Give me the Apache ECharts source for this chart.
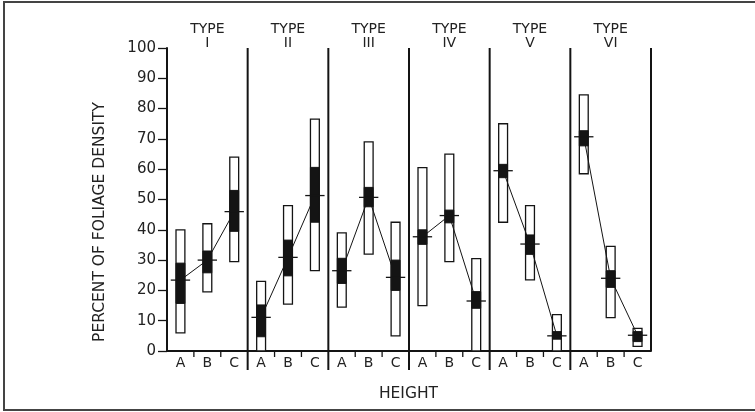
<!DOCTYPE html>
<html>
<head>
<meta charset="utf-8">
<script src="https://cdn.jsdelivr.net/npm/echarts@6/dist/echarts.min.js"></script>
<style>
html,body{margin:0;padding:0;background:#fff;}
#chart{width:755px;height:412px;}
</style>
</head>
<body>
<div id="chart"></div>
<script>
// ---- data ----
var types = ['I', 'II', 'III', 'IV', 'V', 'VI'];
var heights = ['A', 'B', 'C'];
var yTicks = [0, 10, 20, 30, 40, 50, 60, 70, 80, 90, 100];
// range (open bar)
var rangeLow  = [6, 19.5, 29.5,   0, 15.5, 26.5,   14.5, 32, 5,   15, 29.5, 0,   42.5, 23.5, 0,   58.5, 11, 1.5];
var rangeHigh = [40, 42, 64,   23, 48, 76.5,   39, 69, 42.5,   60.5, 65, 30.5,   75, 48, 12,   84.5, 34.5, 7.5];
// inner (solid bar)
var innerLow  = [15.7, 25.8, 39.5,   4.7, 24.8, 42.5,   22.3, 47.6, 20,   35.2, 42.3, 14.1,   57.2, 31.9, 3.9,   67.7, 21, 3.1];
var innerHigh = [29, 33, 53,   15.2, 36.6, 60.6,   30.6, 54, 30,   40, 46.5, 19.6,   61.6, 38.3, 6.4,   72.7, 26.5, 6.4];
// means
var means = [23.4, 30, 46,   11.1, 30.9, 51.3,   26.5, 50.7, 24.3,   37.7, 44.7, 16.5,   59.5, 35.3, 5,   70.7, 24, 5.2];

var categories = [];
types.forEach(function (t) { heights.forEach(function (h) { categories.push(t + '-' + h); }); });

var boxData = categories.map(function (c, i) {
  return [i, rangeLow[i], rangeHigh[i], innerLow[i], innerHigh[i], means[i]];
});

var FONT = '"DejaVu Sans", "Liberation Sans", Arial, sans-serif';
var INK = '#141414';

var series = [{
  type: 'custom',
  clip: false,
  z: 2,
  data: boxData,
  encode: { x: 0, y: [1, 2] },
  renderItem: function (params, api) {
    var idx = api.value(0);
    var band = api.size([1, 0])[0];
    var cx = api.coord([idx, 0])[0];
    var y0 = api.coord([idx, 0])[1];
    var y100 = api.coord([idx, 100])[1];
    var yLo = api.coord([idx, api.value(1)])[1];
    var yHi = api.coord([idx, api.value(2)])[1];
    var yILo = api.coord([idx, api.value(3)])[1];
    var yIHi = api.coord([idx, api.value(4)])[1];
    var yM = api.coord([idx, api.value(5)])[1];
    var w = band * 0.33;
    var children = [];
    children.push({ type: 'rect', shape: { x: cx - w / 2, y: yHi, width: w, height: yLo - yHi },
      style: { fill: '#fff', stroke: INK, lineWidth: 1.3 } });
    children.push({ type: 'rect', shape: { x: cx - w / 2, y: yIHi, width: w, height: yILo - yIHi },
      style: { fill: INK, stroke: INK, lineWidth: 1 } });
    children.push({ type: 'line', shape: { x1: cx - band * 0.36, y1: yM, x2: cx + band * 0.36, y2: yM },
      style: { stroke: INK, lineWidth: 1.3 } });
    var xl = cx - band / 2;
    if (idx % 3 === 0 && idx > 0) {
      children.push({ type: 'line', shape: { x1: xl, y1: y100, x2: xl, y2: y0 + 19 },
        style: { stroke: INK, lineWidth: 2 } });
    } else if (idx % 3 !== 0) {
      children.push({ type: 'line', shape: { x1: xl, y1: y0, x2: xl, y2: y0 + 6 },
        style: { stroke: INK, lineWidth: 1.3 } });
    }
    if (idx === categories.length - 1) {
      var xr = cx + band / 2;
      children.push({ type: 'line', shape: { x1: xr, y1: y100, x2: xr, y2: y0 },
        style: { stroke: INK, lineWidth: 2 } });
    }
    return { type: 'group', children: children };
  }
}];

types.forEach(function (t, ti) {
  var d = [];
  for (var k = 0; k < 3; k++) { var i = ti * 3 + k; d.push([i, means[i]]); }
  series.push({
    type: 'line', data: d, z: 3, symbol: 'none', silent: true,
    lineStyle: { color: INK, width: 1 }
  });
});

var chart = echarts.init(document.getElementById('chart'), null, { renderer: 'canvas' });
chart.setOption({
  animation: false,
  backgroundColor: '#fff',
  grid: { left: 167, right: 104, top: 48, bottom: 61, containLabel: false },
  xAxis: [{
    type: 'category',
    data: categories,
    boundaryGap: true,
    axisLine: { lineStyle: { color: INK, width: 2 } },
    axisTick: { show: false },
    axisLabel: {
      interval: 0, margin: 5, fontSize: 14, color: '#222', fontFamily: FONT,
      formatter: function (v) { return v.split('-')[1]; }
    },
    splitLine: { show: false }
  }, {
    type: 'category',
    position: 'top',
    data: types,
    boundaryGap: true,
    axisLine: { show: false },
    axisTick: { show: false },
    axisLabel: {
      interval: 0, margin: -2, fontSize: 14, lineHeight: 14, color: '#222', fontFamily: FONT,
      formatter: function (v) { return 'TYPE\n' + v; }
    }
  }],
  yAxis: {
    type: 'value',
    min: yTicks[0], max: yTicks[yTicks.length - 1], interval: 10,
    axisLine: { show: true, lineStyle: { color: INK, width: 2 } },
    axisTick: { show: true, length: 9, lineStyle: { color: INK, width: 1.3 } },
    axisLabel: { margin: 11, fontSize: 15, color: '#222', fontFamily: FONT },
    splitLine: { show: false }
  },
  graphic: [
    { type: 'rect', shape: { x: 4, y: 2, width: 800, height: 408 }, style: { fill: 'none', stroke: '#444', lineWidth: 2 }, z: 10 },
    { type: 'text', x: 100, y: 222, rotation: Math.PI / 2,
      style: { text: 'PERCENT OF FOLIAGE DENSITY', font: '15.5px ' + FONT, fill: '#222', align: 'center', verticalAlign: 'middle' } },
    { type: 'text', x: 408.5, y: 393.5,
      style: { text: 'HEIGHT', font: '15.5px ' + FONT, fill: '#222', align: 'center', verticalAlign: 'middle' } }
  ],
  series: series
});
</script>
</body>
</html>
